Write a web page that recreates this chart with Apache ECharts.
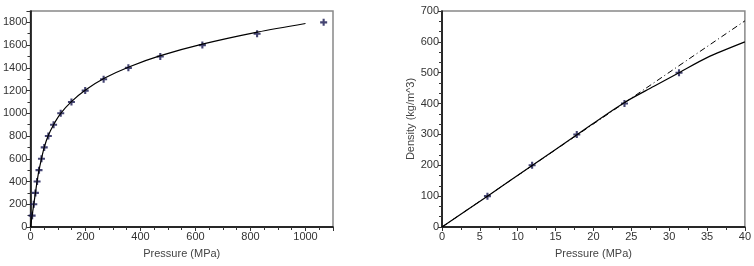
<!DOCTYPE html>
<html>
<head>
<meta charset="utf-8">
<script src="https://cdn.jsdelivr.net/npm/echarts@6/dist/echarts.min.js"></script>
<style>
  html, body { margin: 0; padding: 0; background: #fff; }
  #chart { width: 754px; height: 266px; }
</style>
</head>
<body>
<div id="chart"></div>
<script>
// measured points (pressure MPa, density kg/m^3)
const measPressure = [6, 12, 18, 24, 31, 40, 50, 65, 84, 110, 149, 199, 266, 356, 472, 625, 824, 1066]
const measDensity = [100, 200, 300, 400, 500, 600, 700, 800, 900, 1000, 1100, 1200, 1300, 1400, 1500, 1600, 1700, 1800]

// fitted curve, full range
const fitPressure = [0, 3, 6, 12, 18, 24, 31, 40, 50, 64, 84, 110, 150, 200, 270, 360, 470, 625, 825, 1000]
const fitDensity = [0, 50, 100, 200, 300, 400, 500, 600, 700, 800, 900, 1000, 1105, 1205, 1310, 1410, 1505, 1608, 1714, 1790]

// zoomed view (0-40 MPa)
const zoomPressure = [6.0, 11.9, 17.8, 24.1, 31.3]
const zoomDensity = [100, 200, 300, 400, 500]
const zoomFitPressure = [0, 6, 12, 18, 24, 28, 31.3, 35, 40]
const zoomFitDensity = [0, 100, 201, 302, 402, 456, 500, 549, 600]
const idealPressure = [0, 40]
const idealDensity = [0, 668]

const pair = (xs, ys) => xs.map((x, i) => [x, ys[i]])

const plus = 'path://M3.5,0 L6.5,0 L6.5,3.5 L10,3.5 L10,6.5 L6.5,6.5 L6.5,10 L3.5,10 L3.5,6.5 L0,6.5 L0,3.5 L3.5,3.5 Z'
const font = 'Liberation Sans, Arial, sans-serif'

function xAxisCfg(gridIndex, max, interval, minorSplit) {
  return {
    type: 'value', gridIndex, min: 0, max, interval,
    name: 'Pressure (MPa)', nameLocation: 'middle', nameGap: 21,
    nameTextStyle: { fontFamily: font, fontSize: 11, color: '#444' },
    axisLine: { lineStyle: { color: '#000', width: 1.5 } },
    axisTick: { length: 4, lineStyle: { color: '#333' } },
    minorTick: { show: true, splitNumber: minorSplit, length: 3, lineStyle: { color: '#333' } },
    axisLabel: {
      fontFamily: font, fontSize: 11, color: '#333', margin: 4,
      showMaxLabel: gridIndex === 1, formatter: v => String(v)
    },
    splitLine: { show: false }
  }
}

function yAxisCfg(gridIndex, max, interval, minorSplit, name) {
  return {
    type: 'value', gridIndex, min: 0, max, interval,
    name, nameLocation: 'middle', nameGap: 26,
    nameTextStyle: { fontFamily: font, fontSize: 11, color: '#444' },
    axisLine: { show: true, lineStyle: { color: '#000', width: 1.5 } },
    axisTick: { show: true, length: 4, lineStyle: { color: '#333' } },
    minorTick: { show: true, splitNumber: minorSplit, length: 3, lineStyle: { color: '#333' } },
    axisLabel: {
      fontFamily: font, fontSize: 11, color: '#333', margin: 3,
      showMaxLabel: gridIndex === 1, formatter: v => String(v)
    },
    splitLine: { show: false }
  }
}

const chart = echarts.init(document.getElementById('chart'))
chart.setOption({
  animation: false,
  grid: [
    { left: 27, top: 11, right: 421, bottom: 39, show: true, borderColor: '#888', borderWidth: 1.5 },
    { left: 442, top: 11, right: 7, bottom: 39, show: true, borderColor: '#888', borderWidth: 1.5 }
  ],
  xAxis: [
    xAxisCfg(0, 1100, 200, 4),
    xAxisCfg(1, 40, 5, 2)
  ],
  yAxis: [
    yAxisCfg(0, 1900, 200, 2, ''),
    yAxisCfg(1, 700, 100, 3, 'Density (kg/m^3)')
  ],
  series: [
    {
      type: 'line', xAxisIndex: 0, yAxisIndex: 0, smooth: 0.3, showSymbol: false,
      data: pair(fitPressure, fitDensity),
      lineStyle: { color: '#000', width: 1.2 }
    },
    {
      type: 'scatter', xAxisIndex: 0, yAxisIndex: 0, symbol: plus, symbolSize: 7,
      data: pair(measPressure, measDensity),
      itemStyle: { color: '#15154f' }
    },
    {
      type: 'line', xAxisIndex: 1, yAxisIndex: 1, showSymbol: false,
      data: pair(idealPressure, idealDensity),
      lineStyle: { color: '#000', width: 1, type: [6, 3, 1, 3] }
    },
    {
      type: 'line', xAxisIndex: 1, yAxisIndex: 1, smooth: 0.3, showSymbol: false,
      data: pair(zoomFitPressure, zoomFitDensity),
      lineStyle: { color: '#000', width: 1.2 }
    },
    {
      type: 'scatter', xAxisIndex: 1, yAxisIndex: 1, symbol: plus, symbolSize: 7,
      data: pair(zoomPressure, zoomDensity),
      itemStyle: { color: '#15154f' }
    }
  ]
})
</script>
</body>
</html>
